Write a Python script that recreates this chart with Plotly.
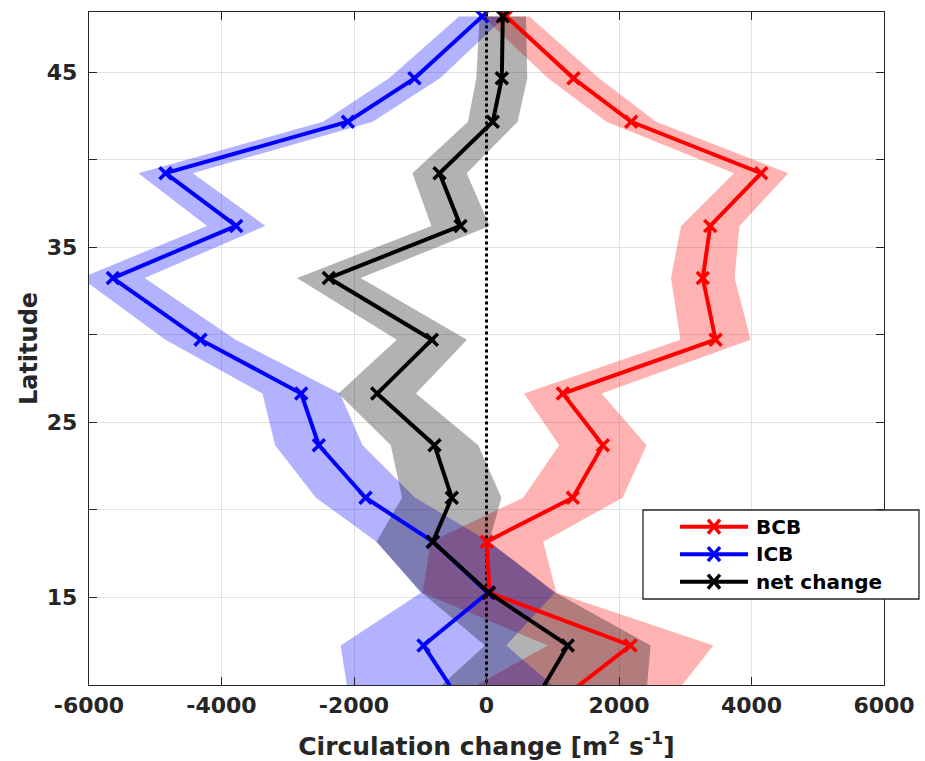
import plotly.graph_objects as go

# ---------------- data ----------------
latitude = [48.2, 44.66, 42.18, 39.24, 36.23, 33.25, 29.73, 26.65, 23.7, 20.7, 18.19, 15.27, 12.26, 9.25]
bcb = [297, 1313, 2184, 4146, 3377, 3265, 3457, 1152, 1756, 1303, 5, 45, 2174, 1148]
icb = [-65, -1087, -2093, -4845, -3778, -5640, -4317, -2797, -2531, -1826, -810, 20, -951, -428]
net_change = [246, 231, 95, -709, -392, -2380, -825, -1650, -785, -524, -810, 35, 1227, 758]
# half-width of the shaded uncertainty band at each latitude
band_halfwidth = [350, 385, 375, 410, 440, 480, 530, 585, 660, 750, 850, 1010, 1250, 1650]

series_names = ["BCB", "ICB", "net change"]
x_tickvals = [-6000, -4000, -2000, 0, 2000, 4000, 6000]
x_ticktext = ["-6000", "-4000", "-2000", "0", "2000", "4000", "6000"]
y_tickvals = [15, 25, 35, 45]
y_ticktext = ["15", "25", "35", "45"]

# ---------------- styles ----------------
line_colors = {"BCB": "rgb(255,0,0)", "ICB": "rgb(0,0,255)", "net change": "rgb(0,0,0)"}
band_colors = {"BCB": "rgba(255,0,0,0.3)", "ICB": "rgba(0,0,255,0.3)", "net change": "rgba(0,0,0,0.3)"}
values = {"BCB": bcb, "ICB": icb, "net change": net_change}
FONT = "DejaVu Sans"
AXC = "#262626"
GRID = "#e1e1e1"

fig = go.Figure()

# shaded bands
for name in ["BCB", "ICB", "net change"]:
    v = values[name]
    lower = [a - w for a, w in zip(v, band_halfwidth)]
    upper = [a + w for a, w in zip(v, band_halfwidth)]
    fig.add_trace(go.Scatter(
        x=lower + upper[::-1], y=latitude + latitude[::-1],
        fill="toself", fillcolor=band_colors[name], mode="none",
        line=dict(width=0), hoverinfo="skip", showlegend=False))

# zero reference line (dotted)
fig.add_trace(go.Scatter(x=[0, 0], y=[5, 50], mode="lines",
                         line=dict(color="black", width=3, dash="dot"),
                         showlegend=False, hoverinfo="skip"))

# series lines with x markers
for name in ["BCB", "ICB", "net change"]:
    fig.add_trace(go.Scatter(
        x=values[name], y=latitude, mode="lines+markers", name=name,
        line=dict(color=line_colors[name], width=4),
        marker=dict(symbol="x-thin", size=12,
                    line=dict(color=line_colors[name], width=3.5)),
        showlegend=False, cliponaxis=True))

# ---------------- layout ----------------
L, R, T, B = 89, 41, 12, 76
W, H = 925, 761
PW, PH = W - L - R, H - T - B

def px(xp):
    return (xp - L) / PW

def py(yp):
    return (H - B - yp) / PH

fig.update_layout(
    width=W, height=H,
    margin=dict(l=L, r=R, t=T, b=B),
    paper_bgcolor="white", plot_bgcolor="white",
    font=dict(family=FONT, color=AXC, size=22, weight="bold"),
    showlegend=False,
)
fig.update_xaxes(
    range=[-6000, 6000], tickvals=x_tickvals, ticktext=x_ticktext,
    showgrid=True, gridcolor=GRID, gridwidth=1, automargin=False,
    zeroline=False, showline=True, linecolor=AXC, linewidth=1.3, mirror="ticks",
    ticks="inside", ticklen=8, tickcolor=AXC, tickwidth=1.3,
    tickfont=dict(family=FONT, size=22, color=AXC, weight="bold"),
    title=dict(text="Circulation change [m<sup>2</sup> s<sup>-1</sup>]",
               font=dict(family=FONT, size=25, color=AXC, weight="bold"), standoff=20),
)
fig.update_yaxes(
    range=[10, 48.45], tickvals=y_tickvals, ticktext=y_ticktext,
    showgrid=True, gridcolor=GRID, gridwidth=1, automargin=False,
    minor=dict(dtick=5, tick0=0, ticks="inside", ticklen=8, tickcolor=AXC, tickwidth=1.3,
               showgrid=True, gridcolor=GRID, gridwidth=1),
    zeroline=False, showline=True, linecolor=AXC, linewidth=1.3, mirror="ticks",
    ticks="inside", ticklen=8, tickcolor=AXC, tickwidth=1.3,
    ticklabelstandoff=6,
    tickfont=dict(family=FONT, size=22, color=AXC, weight="bold"),
    title=dict(text="Latitude",
               font=dict(family=FONT, size=24, color=AXC, weight="bold"), standoff=2),
)

# ---------------- manual legend (MATLAB style) ----------------
shapes = []
shapes.append(dict(type="rect", xref="paper", yref="paper",
                   x0=px(643), x1=px(919), y0=py(599), y1=py(510),
                   line=dict(color=AXC, width=1.3), fillcolor="white", layer="above"))
annotations = []
row_y = [526.7, 554.2, 581.7]
for name, ry in zip(series_names, row_y):
    c = line_colors[name]
    shapes.append(dict(type="line", xref="paper", yref="paper",
                       x0=px(680), x1=px(748), y0=py(ry), y1=py(ry),
                       line=dict(color=c, width=4), layer="above"))
    mx, s = 714, 6
    shapes.append(dict(type="line", xref="paper", yref="paper",
                       x0=px(mx - s), x1=px(mx + s), y0=py(ry - s - 1), y1=py(ry + s + 1),
                       line=dict(color=c, width=3.5), layer="above"))
    shapes.append(dict(type="line", xref="paper", yref="paper",
                       x0=px(mx - s), x1=px(mx + s), y0=py(ry + s + 1), y1=py(ry - s - 1),
                       line=dict(color=c, width=3.5), layer="above"))
    annotations.append(dict(xref="paper", yref="paper", x=px(754), y=py(ry),
                            xanchor="left", yanchor="middle", text=name, showarrow=False,
                            font=dict(family=FONT, size=20, color="black", weight="bold")))
fig.update_layout(shapes=shapes, annotations=annotations)

fig.write_html("out.html")
